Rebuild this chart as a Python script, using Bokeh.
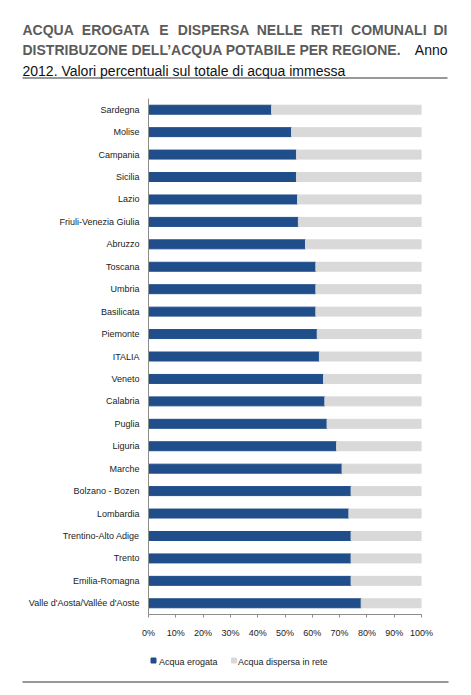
from bokeh.plotting import figure
from bokeh.layouts import column
from bokeh.models import FactorRange, Range1d, FixedTicker, CustomJSTickFormatter
from bokeh.core.properties import value
from bokeh.embed import file_html
from bokeh.resources import INLINE

regions = ["Sardegna", "Molise", "Campania", "Sicilia", "Lazio", "Friuli-Venezia Giulia",
           "Abruzzo", "Toscana", "Umbria", "Basilicata", "Piemonte", "ITALIA", "Veneto",
           "Calabria", "Puglia", "Liguria", "Marche", "Bolzano - Bozen", "Lombardia",
           "Trentino-Alto Adige", "Trento", "Emilia-Romagna", "Valle d'Aosta/Vallée d'Aoste"]
erogata = [45.1, 52.4, 54.2, 54.2, 54.6, 54.9, 57.5, 61.3, 61.3, 61.3, 61.8, 62.6, 64.1,
           64.6, 65.4, 68.9, 70.9, 74.2, 73.4, 74.2, 74.2, 74.2, 77.9]
totale = [100] * len(regions)
x_ticks = [0, 10, 20, 30, 40, 50, 60, 70, 80, 90, 100]
series = ["Acqua erogata", "Acqua dispersa in rete"]
title_line1 = ["ACQUA", "EROGATA", "E", "DISPERSA", "NELLE", "RETI", "COMUNALI", "DI"]
title_line2_bold = "DISTRIBUZONE DELL\u2019ACQUA POTABILE PER REGIONE."
title_line2_end = "Anno"
title_line3 = "2012. Valori percentuali sul totale di acqua immessa"

BLUE = "#1f4e8a"
GREY = "#d9d9d9"
TITLE_GREY = "#5b5b5b"
FONT = "Liberation Sans"
W = 471
TS = "14px"

# ---------- header (title) ----------
HH = 90
head = figure(width=W, height=HH, output_backend="svg", toolbar_location=None,
              x_range=Range1d(0, W), y_range=Range1d(HH, 0),
              x_axis_type=None, y_axis_type=None, min_border=0, frame_align=False)
head.outline_line_color = None
head.grid.visible = False
# justified first line (word starts)
w1_x = [22, 81.3, 158.7, 177.3, 256.2, 310.2, 350.6]
head.text(x=w1_x, y=[29.5] * len(w1_x), text=title_line1[:-1], text_font=value(FONT),
          text_font_style="bold", text_font_size=TS, text_color=TITLE_GREY,
          text_baseline="alphabetic", text_align="left")
head.text(x=[447], y=[29.5], text=[title_line1[-1]], text_font=value(FONT),
          text_font_style="bold", text_font_size=TS, text_color=TITLE_GREY,
          text_baseline="alphabetic", text_align="right")
head.text(x=[22], y=[49.5], text=[title_line2_bold], text_font=value(FONT),
          text_font_style="bold", text_font_size=TS, text_color=TITLE_GREY,
          text_baseline="alphabetic")
head.text(x=[447], y=[49.5], text=[title_line2_end], text_font=value(FONT),
          text_font_size=TS, text_color="#111111",
          text_baseline="alphabetic", text_align="right")
head.text(x=[22], y=[70], text=[title_line3], text_font=value(FONT),
          text_font_size=TS, text_color="#111111", text_baseline="alphabetic")
head.segment(x0=[22], y0=[77.5], x1=[447], y1=[77.5], line_color="#333333", line_width=1)

# ---------- main chart ----------
main = figure(width=W, height=554, output_backend="svg", toolbar_location=None,
              y_range=FactorRange(factors=regions[::-1], range_padding=0),
              x_range=Range1d(0, 100), frame_align=False,
              min_border_left=148, min_border_right=50, min_border_top=8, min_border_bottom=30)
main.outline_line_color = None
main.grid.visible = False

main.hbar(y=regions, left=0, right=erogata, height=0.4, color=BLUE)
main.hbar(y=regions, left=erogata, right=totale, height=0.4, color=GREY)

main.xaxis.ticker = FixedTicker(ticks=x_ticks)
main.xaxis.formatter = CustomJSTickFormatter(code="return tick + '%'")
main.xaxis.axis_line_color = "#8c8c8c"
main.xaxis.major_tick_line_color = "#8c8c8c"
main.xaxis.major_tick_out = 3
main.xaxis.major_tick_in = 0
main.xaxis.minor_tick_line_color = None
main.xaxis.major_label_text_font = FONT
main.xaxis.major_label_text_font_size = "9px"
main.xaxis.major_label_text_color = "#222222"
main.xaxis.major_label_standoff = 10

main.yaxis.axis_line_color = "#8c8c8c"
main.yaxis.major_tick_line_color = None
main.yaxis.major_tick_out = 0
main.yaxis.major_label_text_font = FONT
main.yaxis.major_label_text_font_size = "9px"
main.yaxis.major_label_text_color = "#222222"
main.yaxis.major_label_standoff = 9

# ---------- footer (legend + rule) ----------
FH = 51
foot = figure(width=W, height=FH, output_backend="svg", toolbar_location=None,
              x_range=Range1d(0, W), y_range=Range1d(FH, 0),
              x_axis_type=None, y_axis_type=None, min_border=0, frame_align=False)
foot.outline_line_color = None
foot.grid.visible = False
foot.scatter(x=[153, 233.5], y=[16, 16], marker="square", size=5, color=[BLUE, GREY])
foot.text(x=[158.5, 237.5], y=[17, 17], text=series, text_font=value(FONT),
          text_font_size="9px", text_color="#222222", text_baseline="middle")
foot.segment(x0=[22], y0=[37.5], x1=[448], y1=[37.5], line_color="#333333", line_width=1)

p = column(head, main, foot, spacing=0)
open("out.html", "w").write(file_html(p, INLINE))
